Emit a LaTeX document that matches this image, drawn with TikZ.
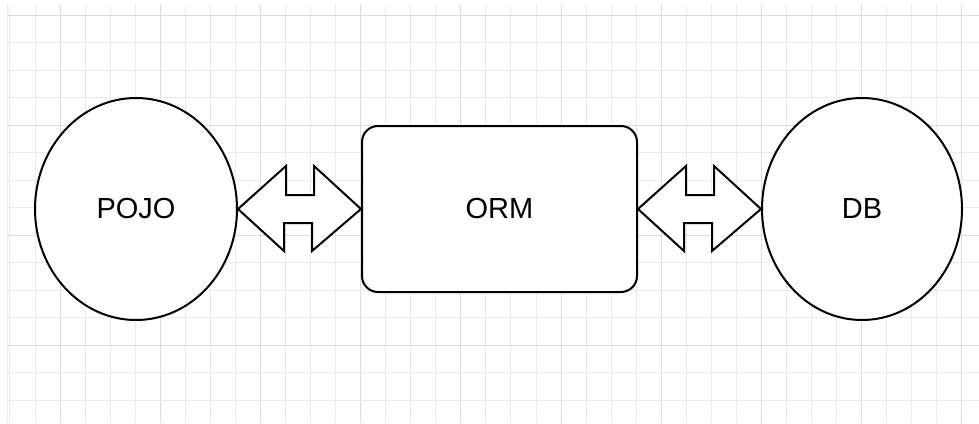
\documentclass[tikz,border=0pt]{standalone}
\usepackage{fontspec}
\setmainfont{Liberation Sans}
\usetikzlibrary{calc}
\definecolor{gridminor}{HTML}{EBEBEB}
\definecolor{gridmajor}{HTML}{DCDCDC}
\tikzset{
  ent/.style={draw=black, line width=2pt, fill=white, ellipse shape},
  ellipse shape/.style={shape=ellipse, inner sep=0pt},
  box/.style={draw=black, line width=2pt, fill=white, rounded corners=16pt, inner sep=0pt},
  lbl/.style={font=\fontsize{29}{33}\selectfont},
  dblarrow/.style={draw=black, line width=2pt, fill=white, line join=miter},
}
\usetikzlibrary{shapes.geometric}
\begin{document}
\begin{tikzpicture}[x=1pt,y=-1pt]
\useasboundingbox (0,0) rectangle (979,423);
% grid
\foreach \k in {0,...,38}{
  \pgfmathsetmacro{\gx}{9.95+25.05*\k}
  \pgfmathtruncatemacro{\m}{mod(\k+2,4)}
  \ifnum\m=0
    \draw[gridmajor, line width=1pt] (\gx,4) -- (\gx,423);
  \else
    \draw[gridminor, line width=1pt] (\gx,4) -- (\gx,423);
  \fi
}
\foreach \k in {0,...,14}{
  \pgfmathsetmacro{\gy}{15+27.5*\k}
  \pgfmathtruncatemacro{\m}{mod(\k,4)}
  \ifnum\m=0
    \draw[gridmajor, line width=1pt] (7,\gy) -- (979,\gy);
  \else
    \draw[gridminor, line width=1pt] (7,\gy) -- (979,\gy);
  \fi
}
\draw[gridminor, line width=1pt] (7,4) -- (7,423);
% nodes
\node[ent, minimum width=202pt, minimum height=222pt, lbl] (pojo) at (136,209) {POJO};
\node[box, minimum width=275pt, minimum height=166pt, lbl] (orm) at (499.5,209) {ORM};
\node[ent, minimum width=200pt, minimum height=222pt, lbl] (db) at (862,209) {DB};
% double arrows
\draw[dblarrow] (pojo.east) -- ++(48,-43) -- ++(0,29) -- ++(28,0) -- ++(0,-29)
  -- (orm.west) -- ++(-49,42) -- ++(0,-28) -- ++(-28,0) -- ++(0,28) -- cycle;
\draw[dblarrow] (orm.east) -- ++(48,-43) -- ++(0,29) -- ++(28,0) -- ++(0,-29)
  -- (db.west) -- ++(-49,42) -- ++(0,-28) -- ++(-28,0) -- ++(0,28) -- cycle;
\end{tikzpicture}
\end{document}
